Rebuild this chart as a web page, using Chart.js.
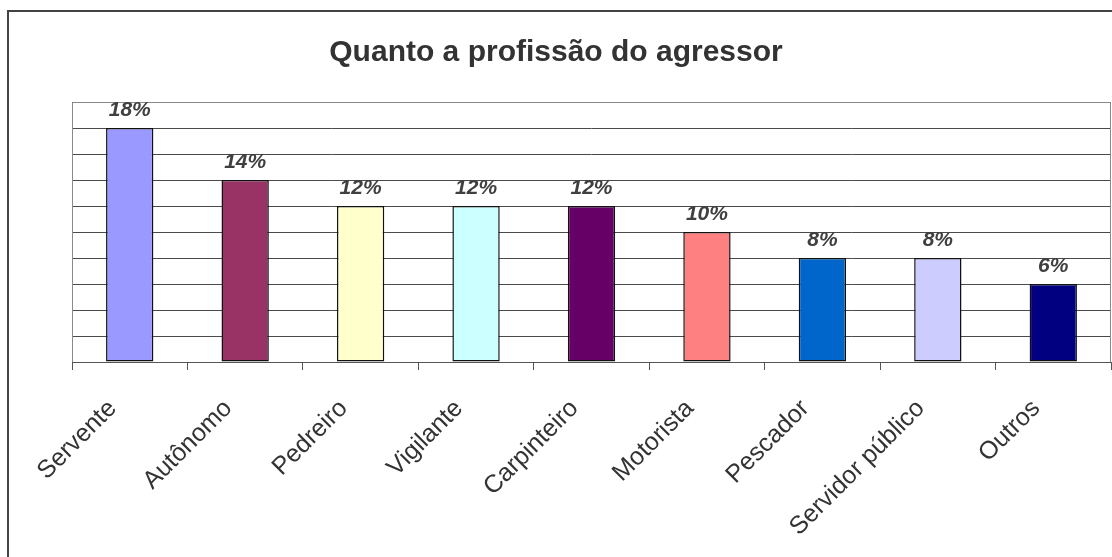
<!DOCTYPE html>
<html>
<head>
<meta charset="utf-8">
<script src="https://cdn.jsdelivr.net/npm/chart.js@4/dist/chart.umd.min.js"></script>
<style>
  html, body { margin: 0; padding: 0; background: #fff; overflow: hidden; }
  #wrap { position: relative; width: 1112px; height: 557px; }
</style>
</head>
<body>
<div id="wrap"><canvas id="chart"></canvas></div>
<script>
const titulo = 'Quanto a profissão do agressor';
const profissoes = ['Servente', 'Autônomo', 'Pedreiro', 'Vigilante', 'Carpinteiro', 'Motorista', 'Pescador', 'Servidor público', 'Outros'];
const percentuais = [18, 14, 12, 12, 12, 10, 8, 8, 6];
const cores = ['#9999FF', '#993366', '#FFFFCC', '#CCFFFF', '#660066', '#FF8080', '#0066CC', '#CCCCFF', '#000080'];

const fonte = '"Liberation Sans", Arial, sans-serif';

// moldura externa (so aparecem os lados esquerdo e superior) e titulo centrado na pagina
const moldura = {
    id: 'moldura',
    beforeDraw(chart) {
        const ctx = chart.ctx;
        ctx.save();
        ctx.fillStyle = '#444';
        ctx.fillRect(7, 10, 2, 600);
        ctx.fillRect(7, 10, 1200, 2);
        ctx.font = 'bold 30px ' + fonte;
        ctx.fillStyle = '#333';
        ctx.textAlign = 'center';
        ctx.textBaseline = 'alphabetic';
        ctx.fillText(titulo, 556, 61);
        ctx.restore();
    },
    beforeDatasetsDraw(chart) {
        const a = chart.chartArea;
        const ctx = chart.ctx;
        ctx.save();
        ctx.strokeStyle = '#8a8a8a';
        ctx.lineWidth = 1;
        ctx.beginPath();
        ctx.moveTo(Math.round(a.left) + 0.5, Math.round(a.bottom));
        ctx.lineTo(Math.round(a.left) + 0.5, Math.round(a.top) + 0.5);
        ctx.lineTo(Math.round(a.right) - 0.5, Math.round(a.top) + 0.5);
        ctx.lineTo(Math.round(a.right) - 0.5, Math.round(a.bottom));
        ctx.stroke();
        ctx.restore();
    }
};

// rotulos de valor em cima das barras
const rotulos = {
    id: 'rotulos',
    afterDatasetsDraw(chart) {
        const ctx = chart.ctx;
        const meta = chart.getDatasetMeta(0);
        ctx.save();
        ctx.font = 'italic bold 21px ' + fonte;
        ctx.fillStyle = '#404040';
        ctx.textAlign = 'center';
        ctx.textBaseline = 'alphabetic';
        meta.data.forEach(function(bar, i) {
            ctx.fillText(percentuais[i] + '%', bar.x, bar.y - 12);
        });
        ctx.restore();
    }
};

const ctx = document.getElementById('chart').getContext('2d');
new Chart(ctx, {
    type: 'bar',
    data: {
        labels: profissoes,
        datasets: [{
            data: percentuais,
            backgroundColor: cores,
            borderColor: '#111',
            borderWidth: 1.5,
            borderSkipped: false,
            barPercentage: 0.41,
            categoryPercentage: 1
        }]
    },
    options: {
        responsive: true,
        maintainAspectRatio: false,
        animation: false,
        layout: { padding: { left: 72, right: 1, top: 102, bottom: 0 } },
        plugins: {
            legend: { display: false },
            tooltip: { enabled: false },
            title: { display: false }
        },
        scales: {
            x: {
                grid: { drawOnChartArea: false, tickLength: 8, color: '#555', offset: true },
                border: { color: '#555' },
                ticks: {
                    color: '#333',
                    font: { family: fonte, size: 25 },
                    minRotation: 45,
                    maxRotation: 45,
                    padding: 24,
                    labelOffset: -17
                },
                afterFit(s) { s.height = 195; }
            },
            y: {
                min: 0,
                max: 20,
                ticks: { display: false, stepSize: 2 },
                grid: { color: '#4a4a4a', drawTicks: false },
                border: { display: false },
                afterFit(s) { s.width = 0; }
            }
        }
    },
    plugins: [moldura, rotulos]
});
</script>
</body>
</html>
